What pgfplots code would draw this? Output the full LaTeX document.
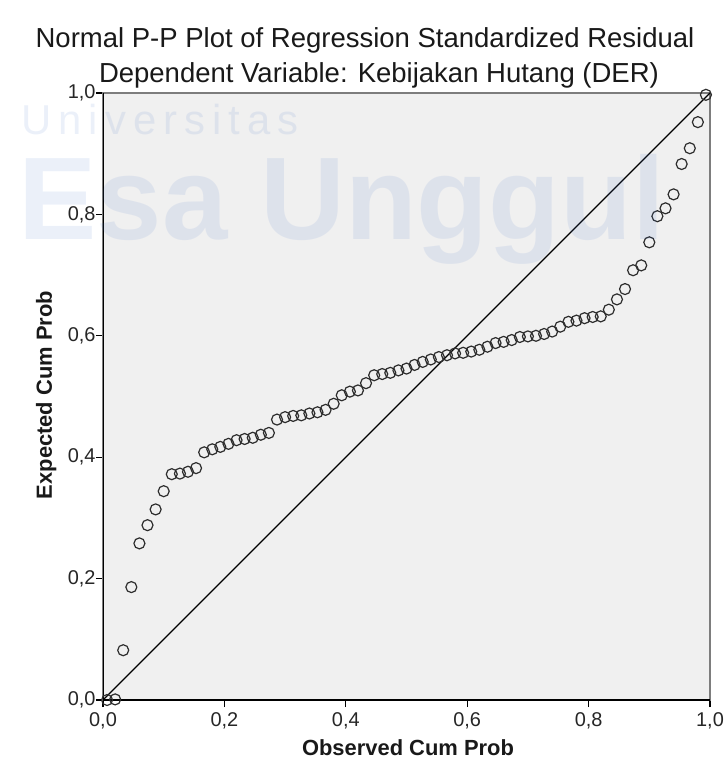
\documentclass[border=0pt]{standalone}
\usepackage{pgfplots}
\pgfplotsset{compat=1.18}
\usepackage{fontspec}
\setmainfont{Liberation Sans}
\definecolor{plotbg}{RGB}{240,240,240}
\definecolor{markc}{RGB}{45,45,45}
\definecolor{framec}{RGB}{125,125,125}
\definecolor{wm}{RGB}{60,110,200}
\begin{document}
\begin{tikzpicture}
\useasboundingbox (-103bp,-74bp) rectangle (625bp,700bp);
\begin{axis}[
  at={(0,0)}, anchor=south west,
  scale only axis, width=607bp, height=607bp,
  xmin=0, xmax=1, ymin=0, ymax=1,
  xtick={0,0.2,0.4,0.6,0.8,1}, ytick={0,0.2,0.4,0.6,0.8,1},
  tick pos=left, tick align=outside, major tick length=7bp,
  tick style={black, line width=1.2bp},
  axis line style={framec, line width=1.3bp},
  axis background/.style={fill=plotbg},
  /pgf/number format/assume math mode=true,
  /pgf/number format/use comma,
  /pgf/number format/fixed,
  /pgf/number format/fixed zerofill,
  /pgf/number format/precision=1,
  ticklabel style={font=\fontsize{20}{20}\selectfont, text=black!85},
  xticklabel style={yshift=-2bp},
  yticklabel style={xshift=3bp},
]
\addplot[black, line width=1.4bp] coordinates {(0,0) (1,1)};
\addplot[only marks, mark=o, mark size=5.5bp, markc, line width=1.2bp] coordinates {
(0.0067,0.000) (0.0200,0.001) (0.0333,0.082) (0.0467,0.186) (0.0600,0.258)
(0.0733,0.288) (0.0867,0.314) (0.1000,0.344) (0.1133,0.372) (0.1267,0.373)
(0.1400,0.376) (0.1533,0.382) (0.1667,0.408) (0.1800,0.413) (0.1933,0.417)
(0.2067,0.422) (0.2200,0.428) (0.2333,0.430) (0.2467,0.432) (0.2600,0.437)
(0.2733,0.440) (0.2867,0.462) (0.3000,0.466) (0.3133,0.468) (0.3267,0.469)
(0.3400,0.472) (0.3533,0.474) (0.3667,0.478) (0.3800,0.488) (0.3933,0.502)
(0.4067,0.508) (0.4200,0.510) (0.4333,0.522) (0.4467,0.535) (0.4600,0.537)
(0.4733,0.539) (0.4867,0.543) (0.5000,0.546) (0.5133,0.552) (0.5267,0.557)
(0.5400,0.561) (0.5533,0.565) (0.5667,0.568) (0.5800,0.571) (0.5933,0.572)
(0.6067,0.574) (0.6200,0.577) (0.6333,0.582) (0.6467,0.588) (0.6600,0.590)
(0.6733,0.593) (0.6867,0.598) (0.7000,0.599) (0.7133,0.600) (0.7267,0.603)
(0.7400,0.607) (0.7533,0.615) (0.7667,0.623) (0.7800,0.625) (0.7933,0.629)
(0.8067,0.631) (0.8200,0.632) (0.8333,0.643) (0.8467,0.660) (0.8600,0.677)
(0.8733,0.708) (0.8867,0.716) (0.9000,0.754) (0.9133,0.797) (0.9267,0.810)
(0.9400,0.833) (0.9533,0.883) (0.9667,0.909) (0.9800,0.952) (0.9933,0.997)
};
\draw[black, line width=1.4bp] (rel axis cs:0,1) -- (rel axis cs:0,0) -- (rel axis cs:1,0);
\end{axis}
\node[anchor=base, font=\fontsize{27.6}{27.6}\selectfont, text=black!90] at (262bp,652bp) {Normal P-P Plot of Regression Standardized Residual};
\node[anchor=base, font=\fontsize{27.6}{27.6}\selectfont, text=black!90] at (276bp,617bp) {Dependent Variable: Kebijakan Hutang (DER)};
\node[anchor=base, font=\fontsize{22}{22}\selectfont\bfseries, text=black!90] at (305bp,-55bp) {Observed Cum Prob};
\node[anchor=base, rotate=90, font=\fontsize{22}{22}\selectfont\bfseries, text=black!90] at (-51bp,305bp) {Expected Cum Prob};
% faint watermark
\node[anchor=base west, font=\fontsize{42}{42}\selectfont, text=wm, text opacity=0.10] at (-85bp,565bp) {U\,n\,i\,v\,e\,r\,s\,i\,t\,a\,s};
\node[anchor=base west, font=\fontsize{118}{118}\selectfont\bfseries, text=wm, text opacity=0.10] at (-88bp,460bp) {Esa Unggul};
\end{tikzpicture}
\end{document}
